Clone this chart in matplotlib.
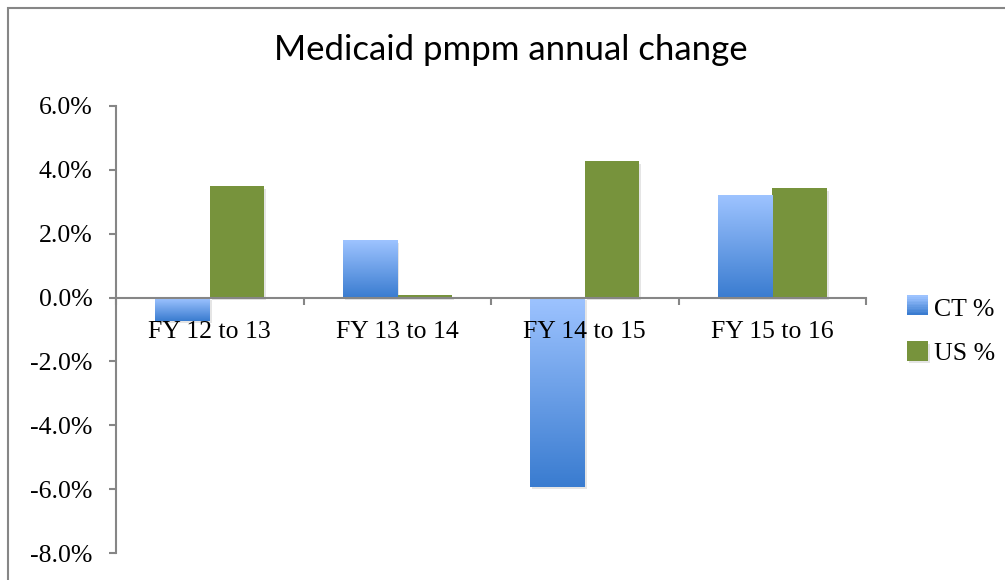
import numpy as np
import matplotlib
matplotlib.use('Agg')
import matplotlib.pyplot as plt
import matplotlib.patheffects as pe
from matplotlib.colors import LinearSegmentedColormap
from matplotlib.legend_handler import HandlerBase
from matplotlib.patches import Rectangle

categories = ['FY 12 to 13', 'FY 13 to 14', 'FY 14 to 15', 'FY 15 to 16']
ct_pct = [-0.72, 1.80, -5.92, 3.20]
us_pct = [3.49, 0.08, 4.27, 3.44]
series_names = ['CT %', 'US %']
yticks = [-8, -6, -4, -2, 0, 2, 4, 6]

blue_top = '#9DC3FF'
blue_bot = '#3A7CD0'
green = '#77933C'
axis_gray = '#868686'
grad = LinearSegmentedColormap.from_list('ctgrad', [blue_bot, blue_top])


class GradientHandler(HandlerBase):
    def create_artists(self, legend, orig_handle, xdescent, ydescent,
                       width, height, fontsize, trans):
        n = 12
        out = []
        for i in range(n):
            r = Rectangle((xdescent, ydescent + height * i / n), width, height / n + 0.3,
                          facecolor=grad(i / (n - 1)), edgecolor='none', transform=trans)
            out.append(r)
        return out


fig = plt.figure(figsize=(10.05, 5.8), dpi=100)
ax = fig.add_axes([116 / 1005, 1 - 553 / 580, 750 / 1005, 447 / 580])

shadow = [pe.SimplePatchShadow(offset=(1.5, -2), shadow_rgbFace='#808080', alpha=0.2), pe.Normal()]
x = np.arange(len(categories)) + 0.5
w = 0.29
ct_bars = ax.bar(x - w / 2, ct_pct, w, color='none', edgecolor='none', zorder=1)
us_bars = ax.bar(x + w / 2, us_pct, w, color=green, edgecolor='none', zorder=1)
for b in list(ct_bars) + list(us_bars):
    b.set_path_effects(shadow)

gimg = np.linspace(1, 0, 100).reshape(-1, 1)
for b in ct_bars:
    x0, y0 = b.get_x(), b.get_y()
    bw, bh = b.get_width(), b.get_height()
    lo, hi = min(y0, y0 + bh), max(y0, y0 + bh)
    im = ax.imshow(gimg, cmap=grad, vmin=0, vmax=1, aspect='auto',
                   extent=[x0, x0 + bw, lo, hi], zorder=1, interpolation='bilinear')
    im.set_clip_path(b)

ax.set_xlim(0, len(categories))
ax.set_ylim(-8, 6)

ax.spines['top'].set_visible(False)
ax.spines['right'].set_visible(False)
ax.spines['bottom'].set_position(('data', 0))
for s in ('left', 'bottom'):
    ax.spines[s].set_color(axis_gray)
    ax.spines[s].set_linewidth(1.5)

ax.set_yticks(yticks)
ax.set_yticklabels(['%.1f%%' % v for v in yticks])
ax.set_xticks(np.arange(len(categories) + 1))
ax.set_xticklabels([])
ax.set_xticks(x, minor=True)
ax.set_xticklabels(categories, minor=True)

serif = 'Liberation Serif'
ax.tick_params(axis='y', direction='out', length=5, width=1.5, color=axis_gray,
               pad=12, labelsize=18.5)
ax.tick_params(axis='x', which='major', direction='out', length=5, width=1.5, color=axis_gray)
ax.tick_params(axis='x', which='minor', length=0, pad=17, labelsize=18.5)
for lab in ax.get_yticklabels() + ax.get_xticklabels(minor=True):
    lab.set_fontfamily(serif)

fig.text(0.508, 1 - 50 / 580, 'Medicaid pmpm annual change', ha='center', va='center',
         fontsize=25, family='Lato')

leg = fig.legend([ct_bars[0], us_bars[0]], series_names,
                 loc='center left', bbox_to_anchor=(907 / 1005, 1 - 331 / 580),
                 frameon=False, borderpad=0, borderaxespad=0,
                 handlelength=0.8, handleheight=0.78, handletextpad=0.25,
                 labelspacing=0.8, prop={'family': serif, 'size': 18.5},
                 handler_map={ct_bars[0]: GradientHandler()})

fig.patches.append(Rectangle((8 / 1005, -0.1), 1.2, 1.1 - 7.5 / 580, transform=fig.transFigure,
                             facecolor='none', edgecolor=axis_gray, linewidth=1.5))

fig.savefig('out.png', dpi=100)
